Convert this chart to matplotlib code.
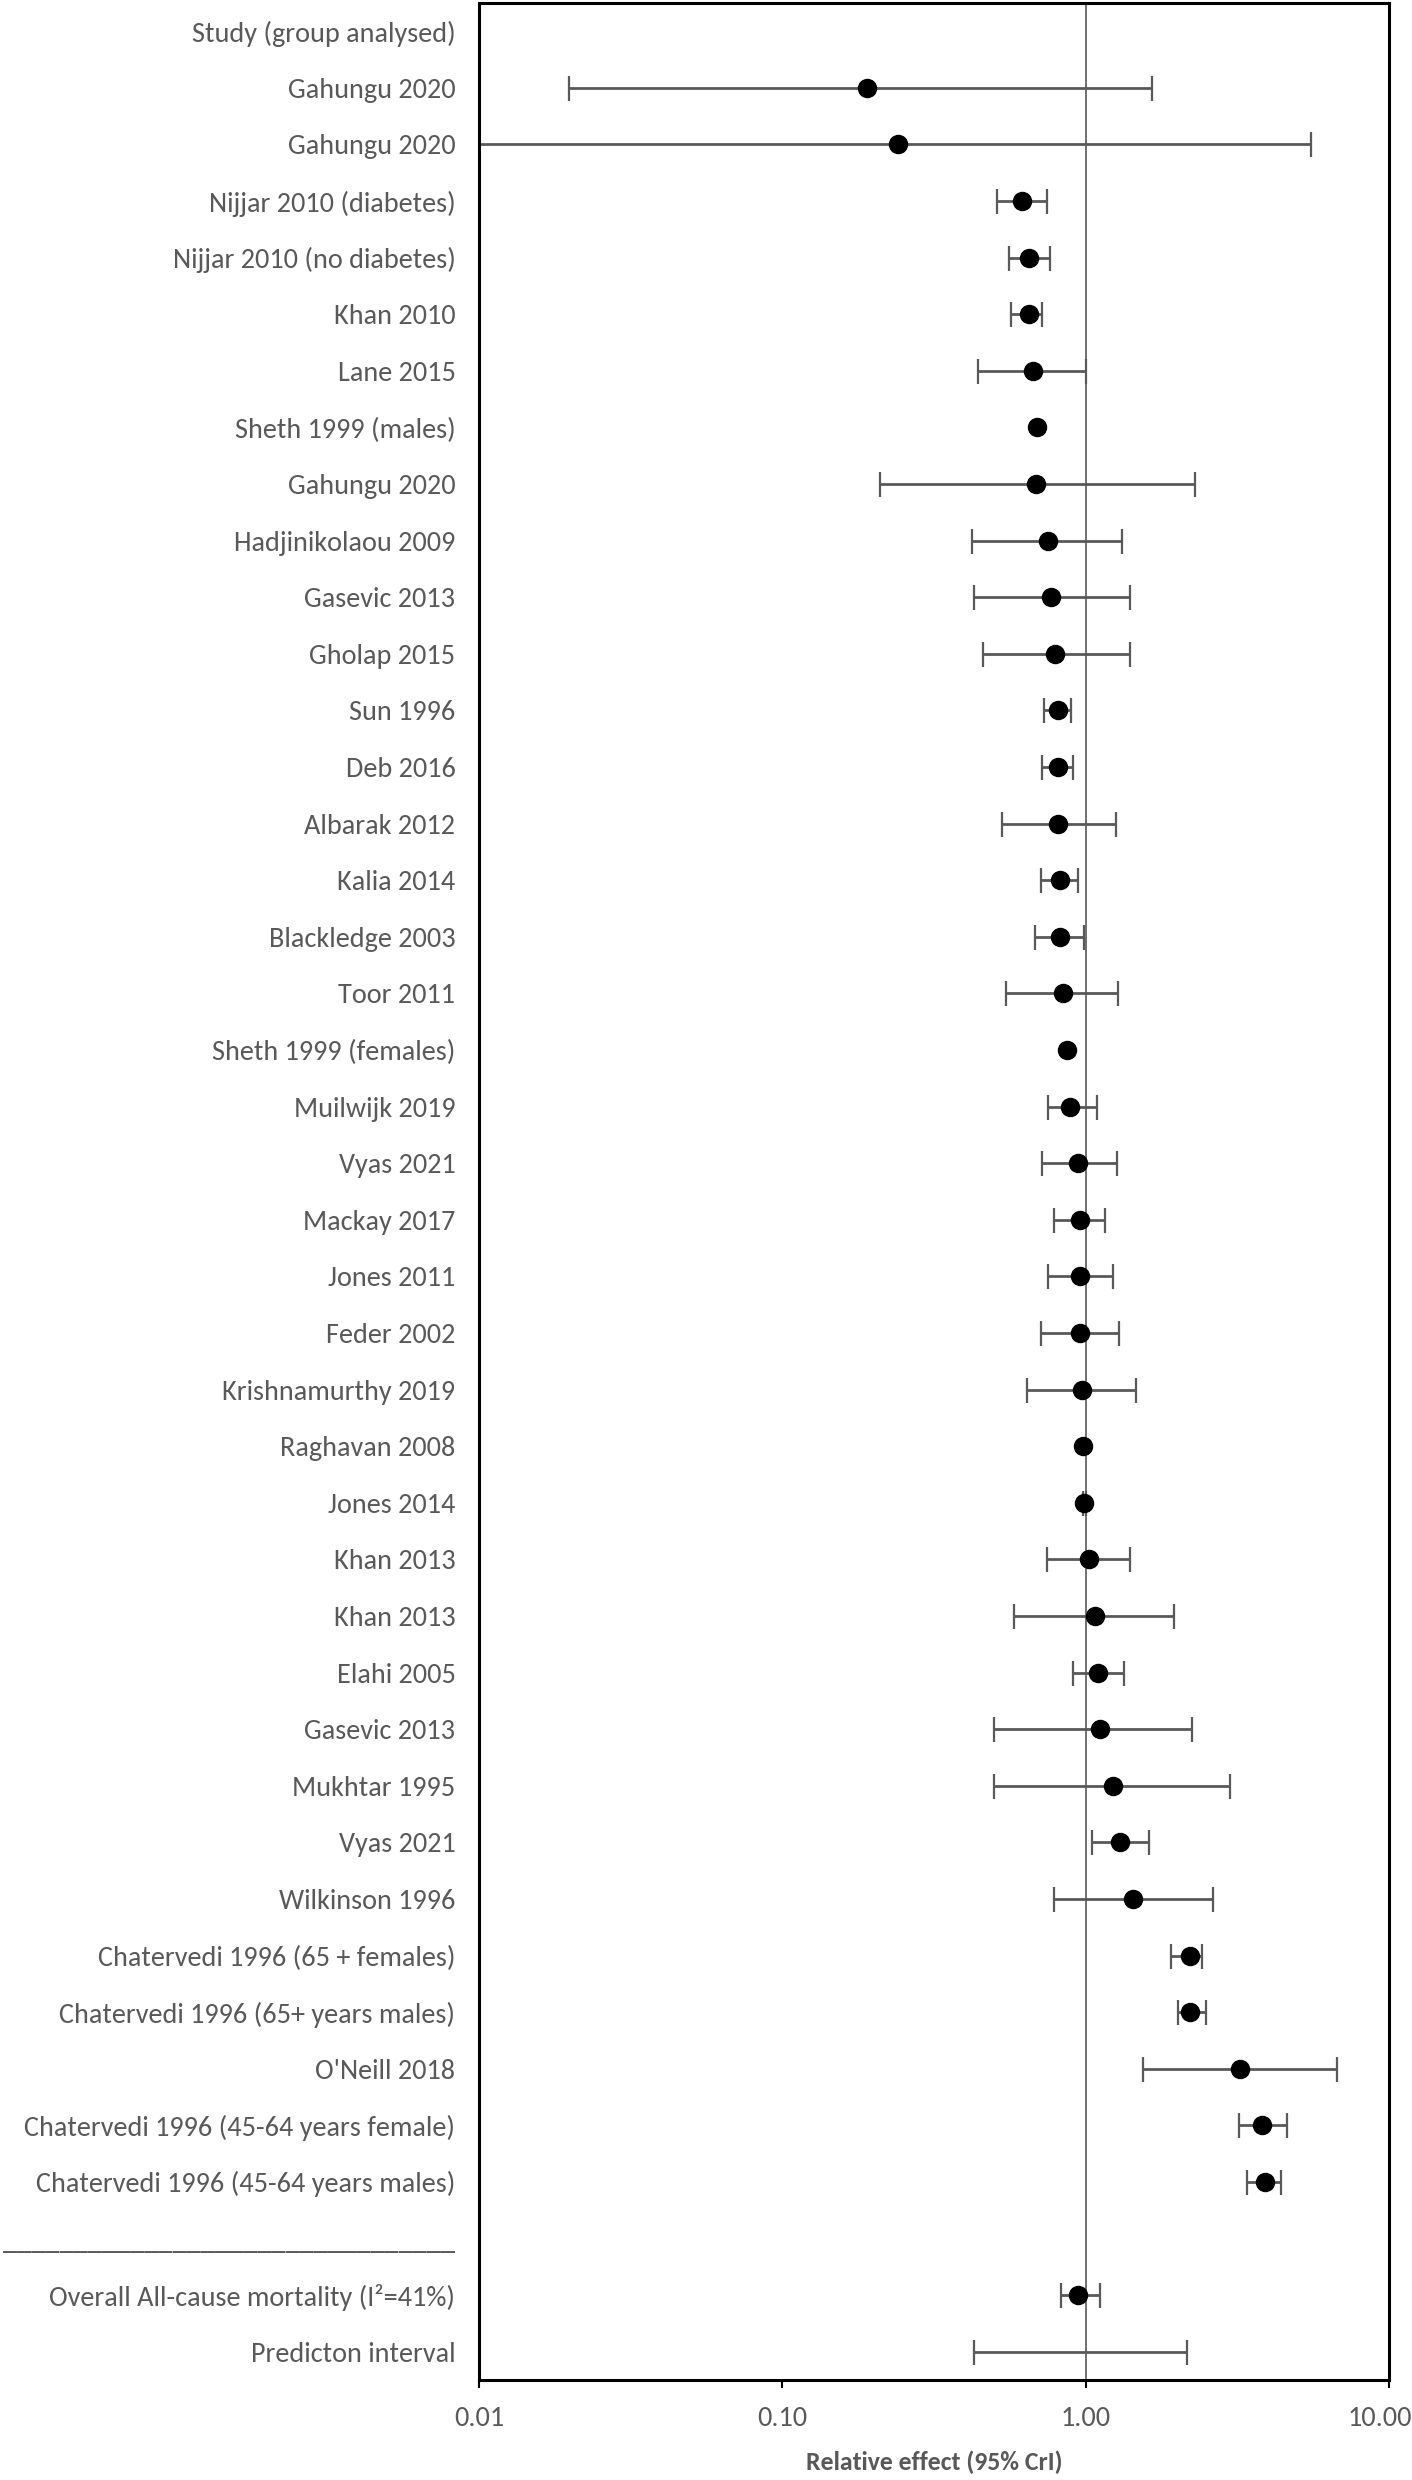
import matplotlib
matplotlib.use("Agg")
import matplotlib.pyplot as plt
import matplotlib.transforms as mtransforms
import numpy as np

# rows top to bottom
studies = [
    "Gahungu 2020", "Gahungu 2020", "Nijjar 2010 (diabetes)", "Nijjar 2010 (no diabetes)",
    "Khan 2010", "Lane 2015", "Sheth 1999 (males)", "Gahungu 2020", "Hadjinikolaou 2009",
    "Gasevic 2013", "Gholap 2015", "Sun 1996", "Deb 2016", "Albarak 2012", "Kalia 2014",
    "Blackledge 2003", "Toor 2011", "Sheth 1999 (females)", "Muilwijk 2019", "Vyas 2021",
    "Mackay 2017", "Jones 2011", "Feder 2002", "Krishnamurthy 2019", "Raghavan 2008",
    "Jones 2014", "Khan 2013", "Khan 2013", "Elahi 2005", "Gasevic 2013", "Mukhtar 1995",
    "Vyas 2021", "Wilkinson 1996", "Chatervedi 1996 (65 + females)",
    "Chatervedi 1996 (65+ years males)", "O'Neill 2018",
    "Chatervedi 1996 (45-64 years female)", "Chatervedi 1996 (45-64 years males)",
]
est = [0.190, 0.240, 0.617, 0.652, 0.652, 0.670, 0.689, 0.685, 0.750, 0.767, 0.795,
       0.809, 0.809, 0.813, 0.820, 0.820, 0.843, 0.870, 0.889, 0.947, 0.960, 0.960,
       0.960, 0.969, 0.978, 0.991, 1.023, 1.070, 1.099, 1.119, 1.230, 1.299, 1.434,
       2.20, 2.21, 3.23, 3.81, 3.90]
lower = [0.0198, 0.008, 0.511, 0.560, 0.569, 0.441, 0.689, 0.210, 0.421, 0.429, 0.458,
         0.730, 0.720, 0.530, 0.713, 0.682, 0.547, 0.870, 0.750, 0.717, 0.788, 0.750,
         0.710, 0.640, 0.978, 0.980, 0.743, 0.580, 0.910, 0.500, 0.500, 1.046, 0.788,
         1.905, 2.01, 1.54, 3.20, 3.41]
upper = [1.66, 5.54, 0.743, 0.760, 0.716, 1.00, 0.689, 2.29, 1.316, 1.402, 1.402,
         0.894, 0.906, 1.258, 0.947, 0.987, 1.281, 0.870, 1.089, 1.264, 1.160, 1.230,
         1.287, 1.466, 0.978, 1.003, 1.402, 1.958, 1.340, 2.25, 2.99, 1.612, 2.62,
         2.41, 2.50, 6.73, 4.61, 4.40]

overall_label = "Overall All-cause mortality (I\u00b2=41%)"
overall = (0.947, 0.831, 1.119)
pi_label = "Predicton interval"
pred_int = (0.429, 2.16)

xticks = [0.01, 0.1, 1, 10]
xticklabels = ["0.01", "0.10", "1.00", "10.00"]

grey = "#595959"
plt.rcParams["font.family"] = ["Carlito", "Lato", "DejaVu Sans"]

fig = plt.figure(figsize=(14.12, 24.8), dpi=100)
ax = fig.add_axes([479 / 1412, 100 / 2480, 910 / 1412, 2377 / 2480])

n = len(studies)
rows = np.arange(1, n + 1)
est_a = np.array(est)
err = [est_a - np.array(lower), np.array(upper) - est_a]
has_ci = np.array(upper) > np.array(lower)

ax.axvline(1, color=grey, lw=1.2, zorder=1)

bar_kw = dict(fmt="none", ecolor=grey, elinewidth=2, capsize=9, capthick=1.6, zorder=2)
ax.errorbar(est_a[has_ci], rows[has_ci],
            xerr=[err[0][has_ci], err[1][has_ci]], **bar_kw)
ax.plot(est_a, rows, "o", color="black", ms=13, zorder=4)

r_over = n + 2
ax.errorbar([overall[0]], [r_over],
            xerr=[[overall[0] - overall[1]], [overall[2] - overall[0]]], **bar_kw)
ax.plot([overall[0]], [r_over], "o", color="black", ms=13, zorder=4)

r_pi = n + 3
ax.errorbar([overall[0]], [r_pi],
            xerr=[[overall[0] - pred_int[0]], [pred_int[1] - overall[0]]], **bar_kw)

ax.set_xscale("log")
ax.set_xlim(0.01, 10)
ax.set_ylim(r_pi + 0.5, -0.5)
ax.set_xticks(xticks)
ax.set_xticklabels(xticklabels)
ax.minorticks_off()

ylabels = ["Study (group analysed)"] + studies + ["_" * 32, overall_label, pi_label]
ax.set_yticks(np.arange(0, r_pi + 1))
ax.set_yticklabels(ylabels)
ax.tick_params(axis="y", length=0, pad=17, labelsize=20.3, labelcolor=grey)
ax.tick_params(axis="x", length=6, width=1.5, direction="out", pad=13,
               labelsize=20.3, labelcolor=grey)

# keep the last tick label inside the figure edge
last = ax.get_xticklabels()[-1]
last.set_transform(last.get_transform() +
                   mtransforms.ScaledTranslation(-9 / 100, 0, fig.dpi_scale_trans))

for s in ax.spines.values():
    s.set_linewidth(2.2)
    s.set_color("black")

ax.set_xlabel("Relative effect (95% CrI)", fontsize=18.5, fontweight="bold", color=grey)
ax.xaxis.set_label_coords(0.5, -82 / 2377)
ax.xaxis.label.set_va("center")

fig.savefig("out.png", dpi=100, facecolor="white")
